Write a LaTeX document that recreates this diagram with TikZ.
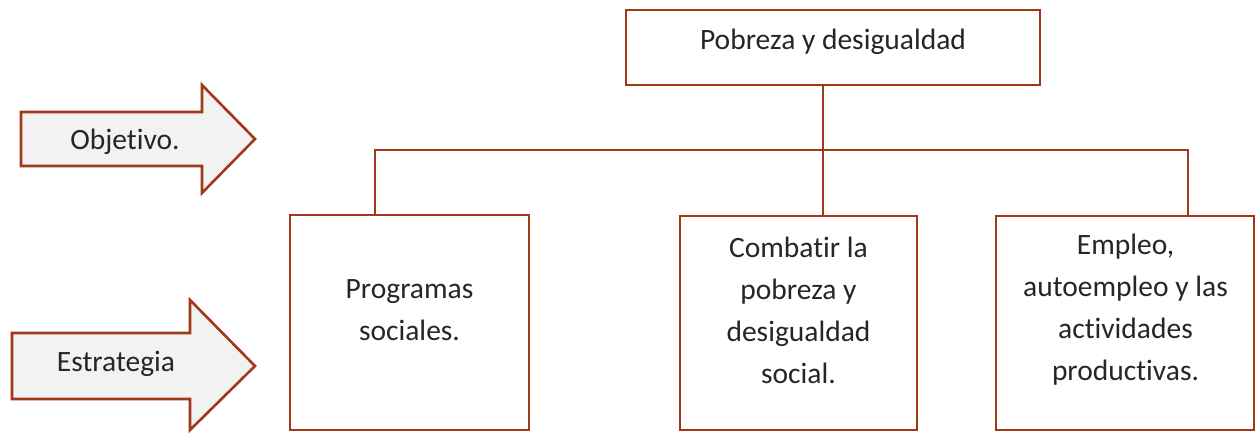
\documentclass[tikz,border=0pt]{standalone}
\usepackage{fontspec}
\setmainfont[Ligatures=NoCommon]{Carlito}
\definecolor{rust}{RGB}{160,56,26}
\definecolor{txtc}{RGB}{38,38,38}
\definecolor{arrfill}{RGB}{242,242,242}
\begin{document}
\begin{tikzpicture}[x=1pt,y=-1pt,
  box/.style={draw=rust,line width=2.6pt,inner sep=0pt,fill=white},
  lbl/.style={text=txtc,align=center,font=\fontsize{29.5}{42}\selectfont,inner sep=0pt},
  conn/.style={draw=rust,line width=2.6pt},
  bigarrow/.style={draw=rust,line width=2.6pt,fill=arrfill,line join=miter}]
\useasboundingbox (0,0) rectangle (1256,433);
% boxes
\node[box,minimum width=414pt,minimum height=75pt] (top) at (833,47.5) {};
\node[box,minimum width=239pt,minimum height=215pt] (b1) at (409.5,322.5) {};
\node[box,minimum width=237pt,minimum height=214pt] (b2) at (798.5,323) {};
\node[box,minimum width=258pt,minimum height=214pt] (b3) at (1125,323) {};
% texts
\node[lbl] (ttop) at (833,42) {Pobreza y desigualdad};
\node[lbl] (t1) at (409.5,310) {Programas\\sociales.};
\node[lbl] (t2) at (798.5,310) {Combatir la\\pobreza y\\desigualdad\\social.};
\node[lbl] (t3) at (1125.5,310) {Empleo,\\autoempleo y las\\actividades\\productivas.};
% connectors
\coordinate (j) at (823,150);
\coordinate (cl) at (375,150);
\coordinate (cr) at (1188,150);
\draw[conn] (top.south -| j) -- (b2.north -| j);
\draw[conn] (b1.north -| cl) -- (cl) -- (cr) -- (b3.north -| cr);
% arrows
\draw[bigarrow] (21,112) -- (202,112) -- (202,85) -- (255,139) -- (202,193) -- (202,166) -- (21,166) -- cycle;
\node[lbl] (obj) at (125,142) {Objetivo.};
\draw[bigarrow] (12,333) -- (190,333) -- (190,300) -- (255,366) -- (190,430) -- (190,399) -- (12,399) -- cycle;
\node[lbl] (est) at (116,364) {Estrategia};
\end{tikzpicture}
\end{document}
